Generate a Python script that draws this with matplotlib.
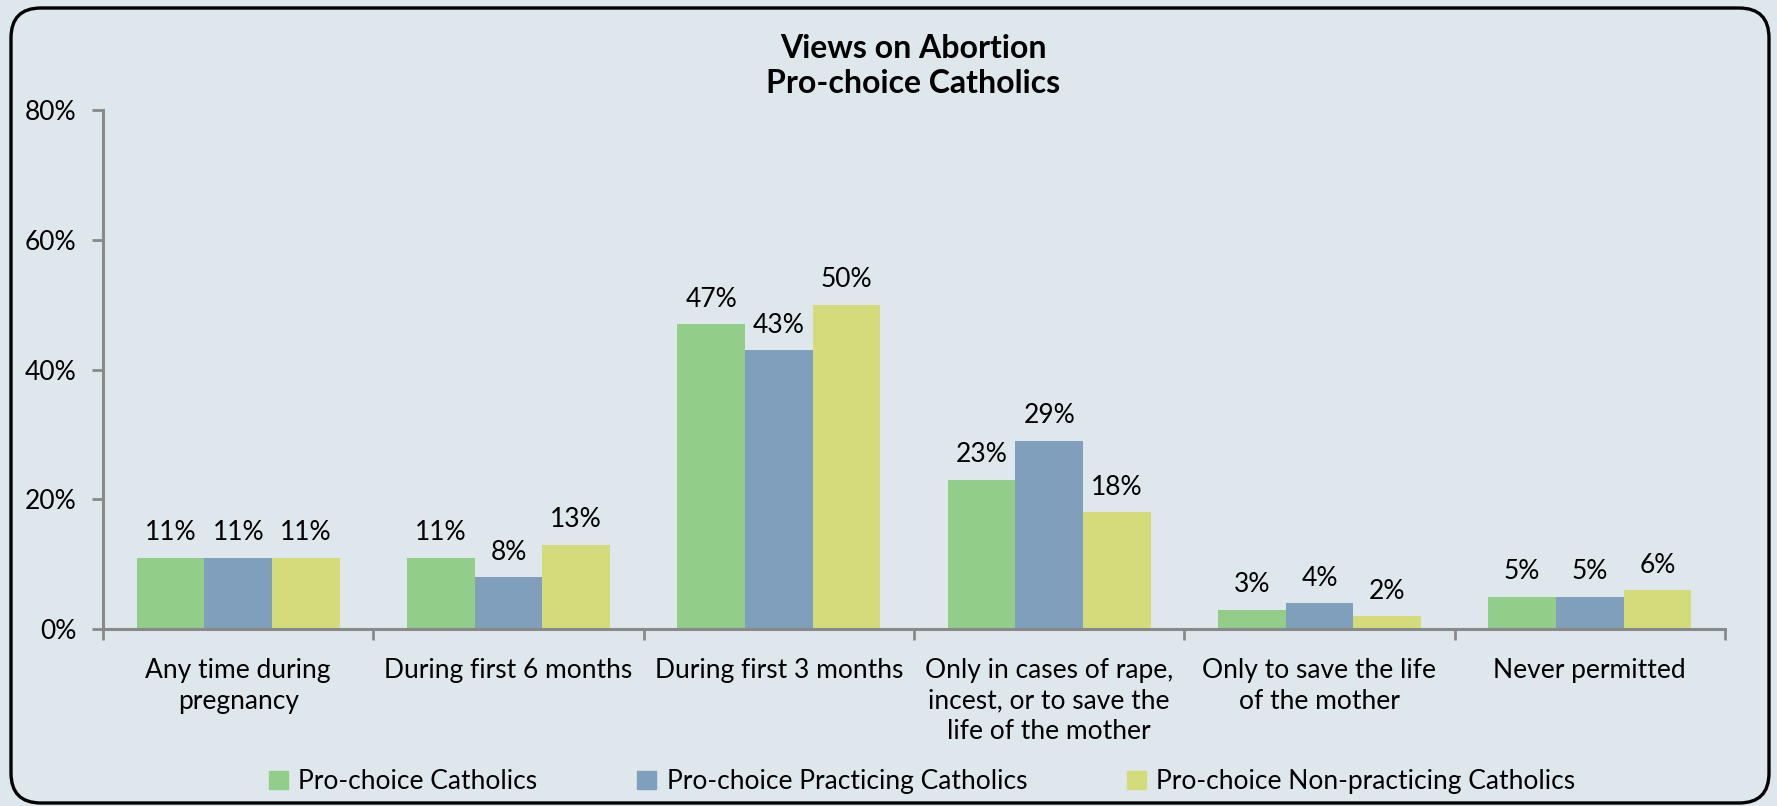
import matplotlib
matplotlib.use("Agg")
import numpy as np
from matplotlib import pyplot as plt
from matplotlib.patches import FancyBboxPatch, Rectangle
from matplotlib.transforms import IdentityTransform

categories = ["Any time during\npregnancy", "During first 6 months", "During first 3 months",
              "Only in cases of rape,\nincest, or to save the\nlife of the mother",
              "Only to save the life\nof the mother", "Never permitted"]
series_names = ["Pro-choice Catholics", "Pro-choice Practicing Catholics",
                "Pro-choice Non-practicing Catholics"]
all_catholics = [11, 11, 47, 23, 3, 5]
practicing = [11, 8, 43, 29, 4, 5]
non_practicing = [11, 13, 50, 18, 2, 6]
y_ticks = [0, 20, 40, 60, 80]

colors = ["#92cd8a", "#7f9fbc", "#d4db7b"]
bg = "#dee8ec"
axis_col = "#898989"

plt.rcParams['font.family'] = ['Lato', 'DejaVu Sans']

fig = plt.figure(figsize=(17.77, 8.06), dpi=100)
fig.patch.set_facecolor(bg)
ax = fig.add_axes([0.058, 0.2196, 0.9127, 0.6439])
ax.set_facecolor(bg)

x = np.arange(len(categories))
w = 0.25
for i, vals in enumerate([all_catholics, practicing, non_practicing]):
    bars = ax.bar(x + (i - 1) * w, vals, width=w, color=colors[i], label=series_names[i], zorder=2)
    ax.bar_label(bars, labels=["{}%".format(v) for v in vals], padding=9, fontsize=19)

ax.set_xlim(-0.5, len(categories) - 0.5)
ax.set_ylim(0, 80)
ax.set_yticks(y_ticks)
ax.set_yticklabels(["{}%".format(t) for t in y_ticks])
ax.set_xticks(x)
ax.set_xticklabels(categories, fontsize=19, linespacing=1.27)
ax.set_xticks(np.arange(len(categories) + 1) - 0.5, minor=True)
ax.tick_params(axis='x', which='major', length=0, pad=21)
ax.tick_params(axis='x', which='minor', length=8, width=2, color=axis_col, direction='out')
ax.tick_params(axis='y', length=8, width=2, color=axis_col, pad=11, labelsize=19)

for s in ['top', 'right']:
    ax.spines[s].set_visible(False)
for s in ['left', 'bottom']:
    ax.spines[s].set_color(axis_col)
    ax.spines[s].set_linewidth(2.2)

fig.text(0.514, 0.918, "Views on Abortion\nPro-choice Catholics", ha='center', va='center',
         fontsize=23, fontweight='bold', linespacing=1.25)

handles = [Rectangle((0, 0), 1, 1, color=c) for c in colors]
ax.legend(handles, series_names, loc='center', bbox_to_anchor=(0.519, 0.03), bbox_transform=fig.transFigure,
          ncol=3, frameon=False, fontsize=19, handlelength=0.7, handleheight=0.7, handletextpad=0.4,
          columnspacing=3.8)

border = FancyBboxPatch((11, 3), 1758, 795, boxstyle="round,pad=0,rounding_size=30",
                        transform=IdentityTransform(), fill=False, edgecolor='black', linewidth=2.4)
fig.add_artist(border)

fig.savefig("out.png", dpi=100, facecolor=bg)
